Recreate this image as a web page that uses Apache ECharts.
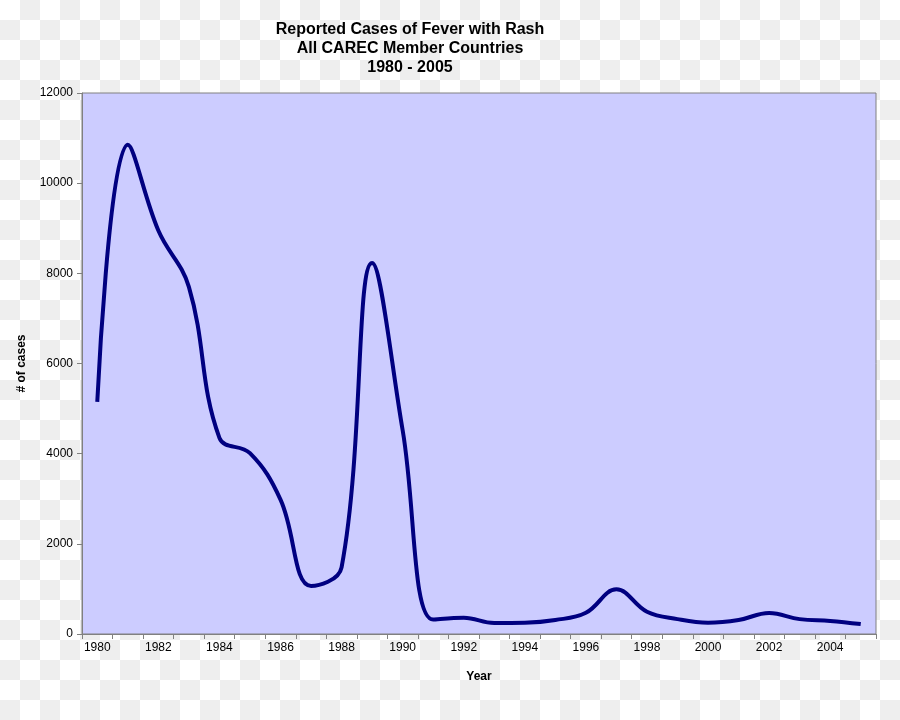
<!DOCTYPE html>
<html>
<head>
<meta charset="utf-8">
<script src="https://cdn.jsdelivr.net/npm/echarts@6/dist/echarts.min.js"></script>
<style>
html,body{margin:0;padding:0;}
body{width:900px;height:720px;background:repeating-conic-gradient(#eeeeee 0 25%, #ffffff 0 50%) 0 0/40px 40px;}
#c{width:900px;height:720px;}
</style>
</head>
<body>
<div id="c"></div>
<script>
var years = ['1980','1981','1982','1983','1984','1985','1986','1987','1988','1989','1990','1991','1992','1993','1994','1995','1996','1997','1998','1999','2000','2001','2002','2003','2004','2005'];
var cases = [5150,10850,8950,7700,4350,4010,2980,1065,1480,8230,4520,320,360,245,250,310,470,990,495,330,250,310,465,330,290,220];
var yTicks = [0,2000,4000,6000,8000,10000,12000];

var chart = echarts.init(document.getElementById('c'), null, {renderer:'canvas'});
var font = 'Liberation Sans, Arial, sans-serif';
chart.setOption({
  animation:false,
  title:{
    text:'Reported Cases of Fever with Rash\nAll CAREC Member Countries\n1980 - 2005',
    left:405, top:15, textAlign:'center',
    textStyle:{fontFamily:font, fontSize:16, fontWeight:'bold', color:'#000', lineHeight:19}
  },
  grid:{left:82, top:93, right:24, bottom:86, show:true, backgroundColor:'#ccccff', borderColor:'#808080', borderWidth:1},
  xAxis:{
    type:'category', data:years, boundaryGap:true,
    name:'Year', nameLocation:'middle', nameGap:37,
    nameTextStyle:{fontFamily:font, fontSize:12, fontWeight:'bold', color:'#000'},
    axisLine:{lineStyle:{color:'#808080', width:1}},
    axisTick:{show:true, interval:0, length:5, lineStyle:{color:'#808080'}},
    axisLabel:{interval:1, fontFamily:font, fontSize:12, color:'#000', margin:8}
  },
  yAxis:{
    type:'value', min:yTicks[0], max:yTicks[yTicks.length-1], interval:2000,
    name:'# of cases', nameLocation:'middle', nameGap:54, nameRotate:90,
    nameTextStyle:{fontFamily:font, fontSize:12, fontWeight:'bold', color:'#000'},
    axisLine:{show:true, lineStyle:{color:'#808080', width:1}},
    axisTick:{show:true, length:5, lineStyle:{color:'#808080'}},
    splitLine:{show:false},
    axisLabel:{fontFamily:font, fontSize:12, color:'#000', margin:9, formatter:function(v){return String(v);}}
  },
  series:[{
    type:'line', data:cases, smooth:0.4, symbol:'none',
    lineStyle:{color:'#000080', width:4}
  }]
});
</script>
</body>
</html>
